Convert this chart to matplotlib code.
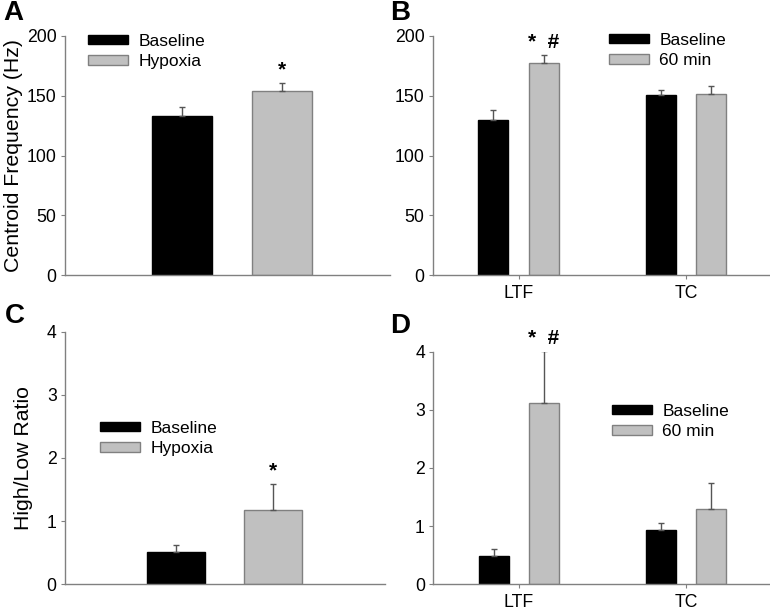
import matplotlib
matplotlib.use("Agg")
import matplotlib.pyplot as plt
import numpy as np

plt.rcParams['font.family'] = ['Liberation Sans', 'DejaVu Sans']

# ---- data ----
series_a = ["Baseline", "Hypoxia"]
cf_a = [133, 154]
cf_a_err = [7.5, 6.5]

groups = ["LTF", "TC"]
series_b = ["Baseline", "60 min"]
cf_b_base = [130, 151]
cf_b_base_err = [8, 3.5]
cf_b_60 = [177, 151.5]
cf_b_60_err = [7, 7]

hl_c = [0.51, 1.17]
hl_c_err = [0.12, 0.42]

hl_d_base = [0.49, 0.94]
hl_d_base_err = [0.11, 0.12]
hl_d_60 = [3.12, 1.30]
hl_d_60_err = [0.90, 0.45]

BLACK = "#000000"
GRAY = "#c0c0c0"
EDGE = "#808080"
SPINE = "#808080"

W, H = 770, 613
fig = plt.figure(figsize=(7.7, 6.13), dpi=100)


def px_axes(left, top, right, bottom):
    return fig.add_axes([left / W, 1 - bottom / H, (right - left) / W, (bottom - top) / H])


def style(ax):
    for s in ["top", "right"]:
        ax.spines[s].set_visible(False)
    for s in ["left", "bottom"]:
        ax.spines[s].set_color(SPINE)
        ax.spines[s].set_linewidth(1.0)
    ax.tick_params(axis='y', direction='out', length=3, color=SPINE, labelsize=12.7, pad=3)
    ax.tick_params(axis='x', direction='out', length=3, color=SPINE, labelsize=12.7, pad=4)


def legend(ax, handles, labels, x, y):
    ax.legend(handles, labels, loc='upper left', bbox_to_anchor=(x / W, 1 - y / H),
              bbox_transform=fig.transFigure, frameon=False, fontsize=12.5,
              handlelength=2.3, handleheight=0.45, handletextpad=0.6,
              labelspacing=0.3, borderpad=0, borderaxespad=0)


ekw = dict(ecolor="#555555", elinewidth=1.0, capsize=2.5, capthick=1.0)

# ---- Panel A ----
axA = px_axes(65, 36, 390, 275)
x = np.arange(len(series_a))
bA1 = axA.bar(x[0], cf_a[0], 0.6, color=BLACK, edgecolor=BLACK,
              yerr=[[0], [cf_a_err[0]]], error_kw=ekw, zorder=2)
bA2 = axA.bar(x[1], cf_a[1], 0.6, color=GRAY, edgecolor=EDGE, linewidth=1,
              yerr=[[0], [cf_a_err[1]]], error_kw=ekw, zorder=2)
axA.set_xlim(-1.17, 2.08)
axA.set_ylim(0, 200)
axA.set_yticks([0, 50, 100, 150, 200])
axA.set_xticks([])
style(axA)
axA.set_ylabel("Centroid Frequency (Hz)", fontsize=15.3, labelpad=3)
axA.text(x[1], cf_a[1] + cf_a_err[1] + 3, "*", ha='center', va='bottom', fontsize=15, fontweight='bold')
legend(axA, [bA1, bA2], series_a, 88, 34)

# ---- Panel B ----
axB = px_axes(433, 36, 770, 275)
g = np.arange(len(groups))
off, bw = 0.15, 0.18
bB1 = axB.bar(g - off, cf_b_base, bw, color=BLACK, edgecolor=BLACK,
              yerr=[[0, 0], cf_b_base_err], error_kw=ekw, zorder=2)
bB2 = axB.bar(g + off, cf_b_60, bw, color=GRAY, edgecolor=EDGE, linewidth=1,
              yerr=[[0, 0], cf_b_60_err], error_kw=ekw, zorder=2)
axB.set_xlim(-0.51, 1.5)
axB.set_ylim(0, 200)
axB.set_yticks([0, 50, 100, 150, 200])
axB.set_xticks(g)
axB.set_xticklabels(groups)
style(axB)
axB.text(g[0] + off, cf_b_60[0] + cf_b_60_err[0] + 3, "*  #", ha='center', va='bottom',
         fontsize=15, fontweight='bold')
legend(axB, [bB1, bB2], series_b, 609, 33)

# ---- Panel C ----
axC = px_axes(65, 331.7, 385, 584.3)
bC1 = axC.bar(x[0], hl_c[0], 0.6, color=BLACK, edgecolor=BLACK,
              yerr=[[0], [hl_c_err[0]]], error_kw=ekw, zorder=2)
bC2 = axC.bar(x[1], hl_c[1], 0.6, color=GRAY, edgecolor=EDGE, linewidth=1,
              yerr=[[0], [hl_c_err[1]]], error_kw=ekw, zorder=2)
axC.set_xlim(-1.155, 2.165)
axC.set_ylim(0, 4)
axC.set_yticks([0, 1, 2, 3, 4])
axC.set_xticks([])
style(axC)
axC.set_ylabel("High/Low Ratio", fontsize=15.3, labelpad=10)
axC.text(x[1], hl_c[1] + hl_c_err[1] + 0.05, "*", ha='center', va='bottom', fontsize=15, fontweight='bold')
legend(axC, [bC1, bC2], series_a, 100, 421)

# ---- Panel D ----
axD = px_axes(433.3, 351.7, 770, 584.3)
bD1 = axD.bar(g - off, hl_d_base, bw, color=BLACK, edgecolor=BLACK,
              yerr=[[0, 0], hl_d_base_err], error_kw=ekw, zorder=2)
bD2 = axD.bar(g + off, hl_d_60, bw, color=GRAY, edgecolor=EDGE, linewidth=1,
              yerr=[[0, 0], hl_d_60_err], error_kw=ekw, zorder=2)
axD.set_xlim(-0.51, 1.5)
axD.set_ylim(0, 4)
axD.set_yticks([0, 1, 2, 3, 4])
axD.set_xticks(g)
axD.set_xticklabels(groups)
style(axD)
axD.text(g[0] + off, hl_d_60[0] + hl_d_60_err[0] + 0.05, "*  #", ha='center', va='bottom',
         fontsize=15, fontweight='bold')
legend(axD, [bD1, bD2], series_b, 612, 404)

# ---- panel letters ----
for lab, (lx, ly) in zip("ABCD", [(3, 0), (390, 0), (5, 303), (390, 313)]):
    fig.text(lx / W, 1 - ly / H, lab, ha='left', va='top', fontsize=20, fontweight='bold')

fig.savefig("out.png", dpi=100)
